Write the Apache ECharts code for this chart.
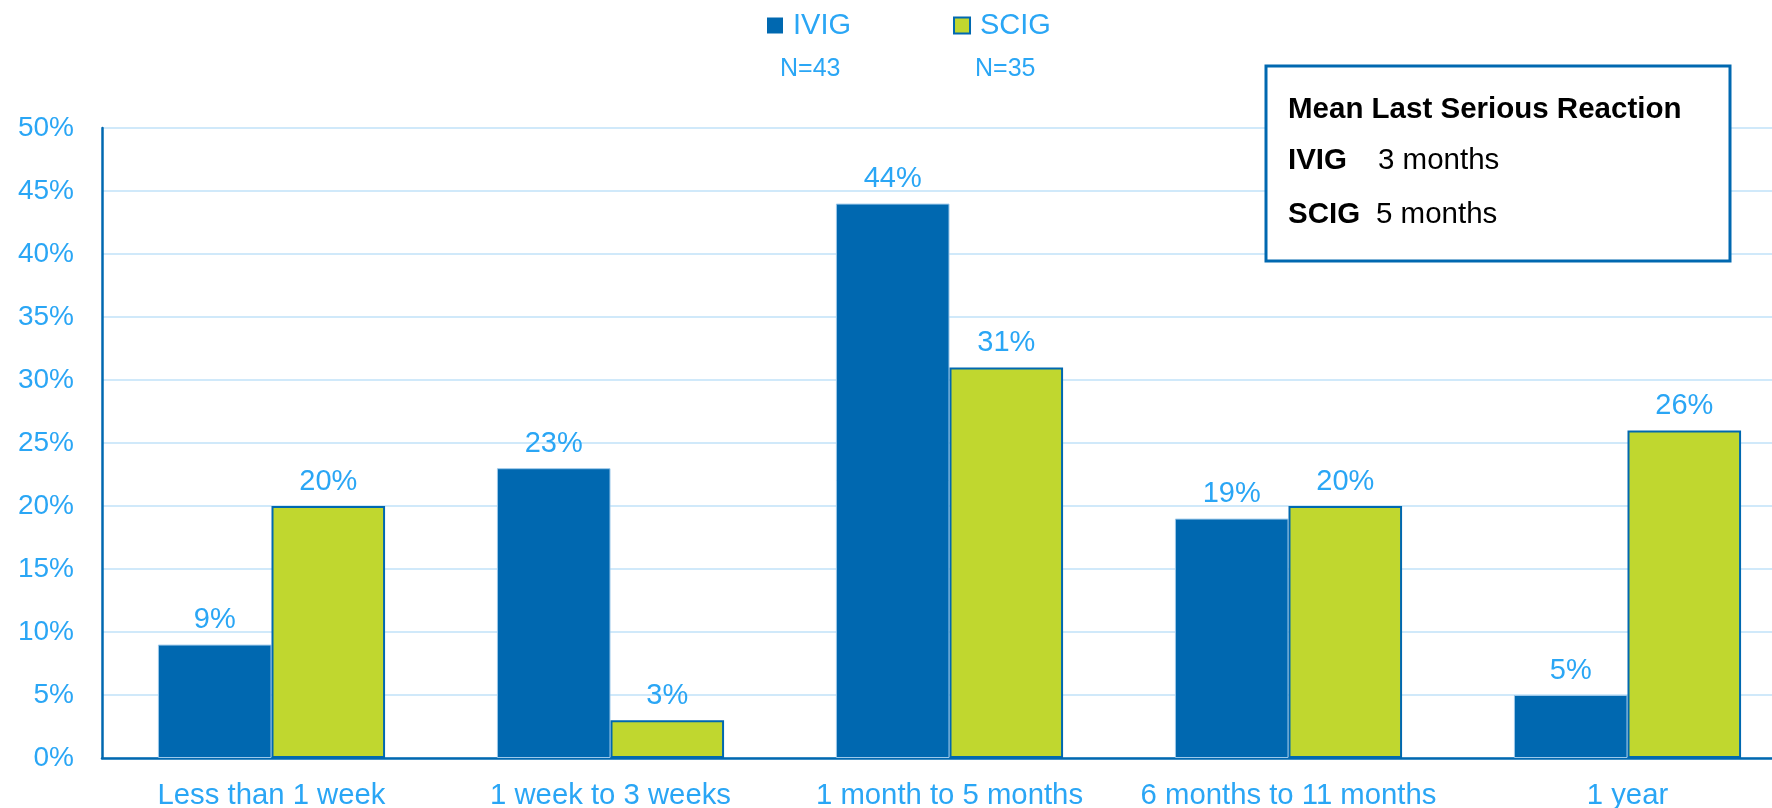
<!DOCTYPE html>
<html>
<head>
<meta charset="utf-8">
<script src="https://cdn.jsdelivr.net/npm/echarts@6/dist/echarts.min.js"></script>
<style>
  html, body { margin: 0; padding: 0; background: #ffffff; }
  #chart { width: 1772px; height: 808px; }
</style>
</head>
<body>
<div id="chart"></div>
<script>
// Time since last serious reaction, share of patients per group
const categories = ['Less than 1 week', '1 week to 3 weeks', '1 month to 5 months', '6 months to 11 months', '1 year'];
const ivigValues = [9, 23, 44, 19, 5];
const scigValues = [20, 3, 31, 20, 26];
const seriesNames = ['IVIG', 'SCIG'];
const sampleSizes = [43, 35];
const yTicks = { min: 0, max: 50, interval: 5 };
const boxTitle = 'Mean Last Serious Reaction';
const boxRows = [['IVIG', '3 months'], ['SCIG', '5 months']];

const FONT = "'Liberation Sans', Arial, sans-serif";
const LABEL_BLUE = '#2AA6F5';
const DARK_BLUE = '#0068B0';
const GREEN = '#C0D72F';

const chart = echarts.init(document.getElementById('chart'), null, { renderer: 'canvas' });

const labelCfg = {
  show: true,
  position: 'top',
  distance: 10,
  color: LABEL_BLUE,
  fontFamily: FONT,
  fontSize: 29,
  formatter: p => p.value + '%'
};

chart.setOption({
  animation: false,
  backgroundColor: '#ffffff',
  textStyle: { fontFamily: FONT },
  // the last category band runs past the right edge of the canvas
  grid: { left: 102, width: 1695, top: 128, bottom: 50, containLabel: false, outerBoundsMode: 'none' },
  legend: {
    data: [
      { name: seriesNames[0], itemStyle: { color: DARK_BLUE, borderWidth: 0 } },
      { name: seriesNames[1], itemStyle: { color: GREEN, borderColor: DARK_BLUE, borderWidth: 2 } }
    ],
    left: 762,
    top: 6,
    icon: 'rect',
    itemWidth: 16,
    itemHeight: 16,
    itemGap: 102,
    textStyle: { color: LABEL_BLUE, fontSize: 29, fontFamily: FONT, padding: [0, 0, 0, 5] }
  },
  xAxis: {
    type: 'category',
    data: categories,
    axisLine: { lineStyle: { color: DARK_BLUE, width: 2.5 } },
    axisTick: { show: false },
    axisLabel: { color: LABEL_BLUE, fontSize: 29.3, fontFamily: FONT, margin: 23, interval: 0 },
    splitLine: { show: false }
  },
  yAxis: {
    type: 'value',
    min: yTicks.min,
    max: yTicks.max,
    interval: yTicks.interval,
    axisLine: { show: true, lineStyle: { color: DARK_BLUE, width: 2.5 } },
    axisTick: { show: false },
    axisLabel: { color: LABEL_BLUE, fontSize: 28, fontFamily: FONT, margin: 28, formatter: '{value}%' },
    splitLine: { lineStyle: { color: '#D0E9FA', width: 2 } }
  },
  series: [
    {
      name: seriesNames[0],
      type: 'bar',
      data: ivigValues,
      barGap: '0%',
      barCategoryGap: '33%',
      itemStyle: { color: DARK_BLUE, borderColor: '#9CC8EA', borderWidth: 1 },
      label: labelCfg
    },
    {
      name: seriesNames[1],
      type: 'bar',
      data: scigValues,
      barGap: '0%',
      barCategoryGap: '33%',
      itemStyle: { color: GREEN, borderColor: DARK_BLUE, borderWidth: 2 },
      label: labelCfg
    }
  ],
  graphic: [
    // sample size under each legend entry
    { type: 'text', left: 780, top: 57, z: 10,
      style: { text: 'N=' + sampleSizes[0], fill: LABEL_BLUE, font: '25px ' + FONT } },
    { type: 'text', left: 975, top: 57, z: 10,
      style: { text: 'N=' + sampleSizes[1], fill: LABEL_BLUE, font: '25px ' + FONT } },
    // summary box
    { type: 'rect', z: 20, shape: { x: 1266, y: 66, width: 464, height: 195 },
      style: { fill: '#ffffff', stroke: DARK_BLUE, lineWidth: 3 } },
    { type: 'text', z: 21, x: 1288, y: 110,
      style: { text: boxTitle, fill: '#000000', font: 'bold 29.5px ' + FONT, verticalAlign: 'middle' } },
    { type: 'text', z: 21, x: 1288, y: 161,
      style: { text: boxRows[0][0], fill: '#000000', font: 'bold 29.5px ' + FONT, verticalAlign: 'middle' } },
    { type: 'text', z: 21, x: 1378, y: 161,
      style: { text: boxRows[0][1], fill: '#000000', font: '29.5px ' + FONT, verticalAlign: 'middle' } },
    { type: 'text', z: 21, x: 1288, y: 215,
      style: { text: boxRows[1][0], fill: '#000000', font: 'bold 29.5px ' + FONT, verticalAlign: 'middle' } },
    { type: 'text', z: 21, x: 1376, y: 215,
      style: { text: boxRows[1][1], fill: '#000000', font: '29.5px ' + FONT, verticalAlign: 'middle' } }
  ]
});
</script>
</body>
</html>
